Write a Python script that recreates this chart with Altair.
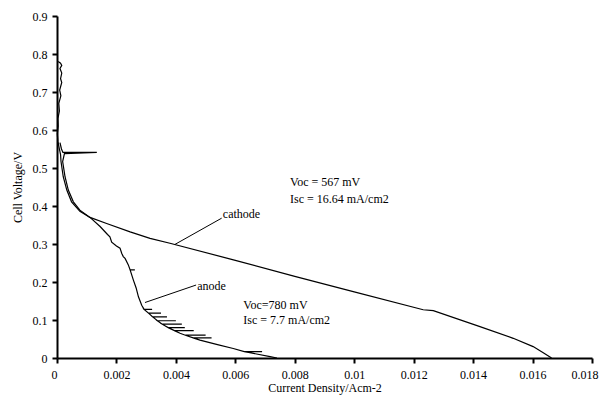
import altair as alt
import pandas as pd

# ---- data ----
anode_x = [0.00004, 0.00012, 0.00016, 0.00010, 0.00016, 0.00012, 0.00016, 0.00009, 0.00013,
           0.00006, 0.00008, 0.00003, 0.00004, 0.00001, 0.00003, 0.00008, 0.00012, 0.000135,
           0.00021, 0.00033, 0.00049, 0.00077, 0.00111, 0.00145, 0.00170, 0.00178, 0.00184,
           0.00200, 0.00212, 0.00218, 0.00223, 0.00229, 0.00240, 0.00246, 0.00262, 0.00246,
           0.00257, 0.00266, 0.00274, 0.00285,
           0.00293, 0.00320, 0.00293,
           0.00308, 0.00350, 0.00308,
           0.00322, 0.00370, 0.00322,
           0.00338, 0.00400, 0.00338,
           0.00354, 0.00420, 0.00354,
           0.00374, 0.00430, 0.00374,
           0.00395, 0.00460, 0.00395,
           0.00414,
           0.00432, 0.00500, 0.00432,
           0.00458, 0.00520, 0.00458,
           0.00481, 0.00540, 0.00593,
           0.00630, 0.00690, 0.00630,
           0.00649, 0.00717, 0.00740]
anode_v = [0.780, 0.776, 0.770, 0.762, 0.750, 0.735, 0.725, 0.705, 0.690,
           0.670, 0.650, 0.630, 0.610, 0.590, 0.570, 0.550, 0.535, 0.517,
           0.477, 0.442, 0.411, 0.386, 0.370, 0.346, 0.325, 0.319, 0.305,
           0.295, 0.289, 0.275, 0.267, 0.262, 0.245, 0.232, 0.232, 0.232,
           0.205, 0.185, 0.161, 0.139,
           0.128, 0.128, 0.128,
           0.118, 0.118, 0.118,
           0.108, 0.108, 0.108,
           0.098, 0.098, 0.098,
           0.089, 0.089, 0.089,
           0.080, 0.080, 0.080,
           0.072, 0.072, 0.072,
           0.065,
           0.060, 0.060, 0.060,
           0.053, 0.053, 0.053,
           0.047, 0.035, 0.025,
           0.017, 0.017, 0.017,
           0.014, 0.0035, 0.0]

cathode_x = [0.00010, 0.00015, 0.00020, 0.00134, 0.00025, 0.00019, 0.00027, 0.00038, 0.00055,
             0.00077, 0.00111, 0.00167, 0.00246, 0.00313, 0.00380, 0.00600, 0.00800, 0.01000,
             0.01232, 0.01266, 0.01423, 0.01535, 0.01602, 0.01636, 0.01664]
cathode_v = [0.567, 0.550, 0.541, 0.541, 0.538, 0.517, 0.477, 0.442, 0.411,
             0.389, 0.370, 0.354, 0.332, 0.315, 0.302, 0.257, 0.215, 0.174,
             0.127, 0.1245, 0.0825, 0.0518, 0.030, 0.014, 0.0]

leader_x = [0.00397, 0.00296]
leader_y = [0.299, 0.146]
leader_x2 = [0.00554, 0.00468]
leader_y2 = [0.368, 0.192]

label_text = ["cathode", "anode", "Voc = 567 mV", "Isc = 16.64 mA/cm2", "Voc=780 mV", "Isc = 7.7 mA/cm2"]
label_x = [0.00558, 0.00472, 0.00784, 0.00784, 0.00627, 0.00627]
label_y = [0.380, 0.189, 0.462, 0.418, 0.139, 0.100]

x_ticks = [0, 0.002, 0.004, 0.006, 0.008, 0.01, 0.012, 0.014, 0.016, 0.018]
y_ticks = [0, 0.1, 0.2, 0.3, 0.4, 0.5, 0.6, 0.7, 0.8, 0.9]

FONT = "Liberation Serif"

rows = []
for i, (x, v) in enumerate(zip(anode_x, anode_v)):
    rows.append({"series": "anode", "i": i, "x": x, "y": v})
for i, (x, v) in enumerate(zip(cathode_x, cathode_v)):
    rows.append({"series": "cathode", "i": i, "x": x, "y": v})
df = pd.DataFrame(rows)

xscale = alt.Scale(domain=[0, 0.018], nice=False, zero=False)
yscale = alt.Scale(domain=[0, 0.9], nice=False, zero=False)

axis_style = dict(grid=False, ticks=True, labelOverlap=False,
                  domainColor="black", domainWidth=2,
                  tickColor="black", tickWidth=2, tickSize=5,
                  labelFont=FONT, labelFontSize=12, labelColor="black",
                  titleFont=FONT, titleFontSize=12, titleFontWeight="normal",
                  titleColor="black", format="~g")

X = alt.X("x:Q", scale=xscale,
          axis=alt.Axis(title="Current Density/Acm-2", values=x_ticks,
                        labelFlush=True, labelFlushOffset=6,
                        labelPadding=6, titlePadding=2, **axis_style))
Y = alt.Y("y:Q", scale=yscale,
          axis=alt.Axis(title="Cell Voltage/V", values=y_ticks, labelFlush=False,
                        labelPadding=5, titlePadding=8, **axis_style))

lines = alt.Chart(df).mark_line(color="black", strokeWidth=1.2).encode(
    x=X, y=Y, detail="series:N", order="i:Q")

ldf = pd.DataFrame({"x": leader_x, "y": leader_y, "x2": leader_x2, "y2": leader_y2})
leaders = alt.Chart(ldf).mark_rule(color="black", strokeWidth=1).encode(
    x=X, y=Y, x2="x2:Q", y2="y2:Q")

tdf = pd.DataFrame({"t": label_text, "x": label_x, "y": label_y})
texts = alt.Chart(tdf).mark_text(align="left", baseline="middle", font=FONT,
                                 fontSize=12, color="black").encode(
    x=X, y=Y, text="t:N")

chart = alt.layer(lines, leaders, texts).properties(
    width=535, height=342,
    background="white",
    autosize=alt.AutoSizeParams(type="none"),
    padding={"left": 49, "top": 8, "right": 8, "bottom": 38},
).configure_view(stroke=None)

chart.save("out.html", embed_options={"renderer": "svg", "actions": False})
